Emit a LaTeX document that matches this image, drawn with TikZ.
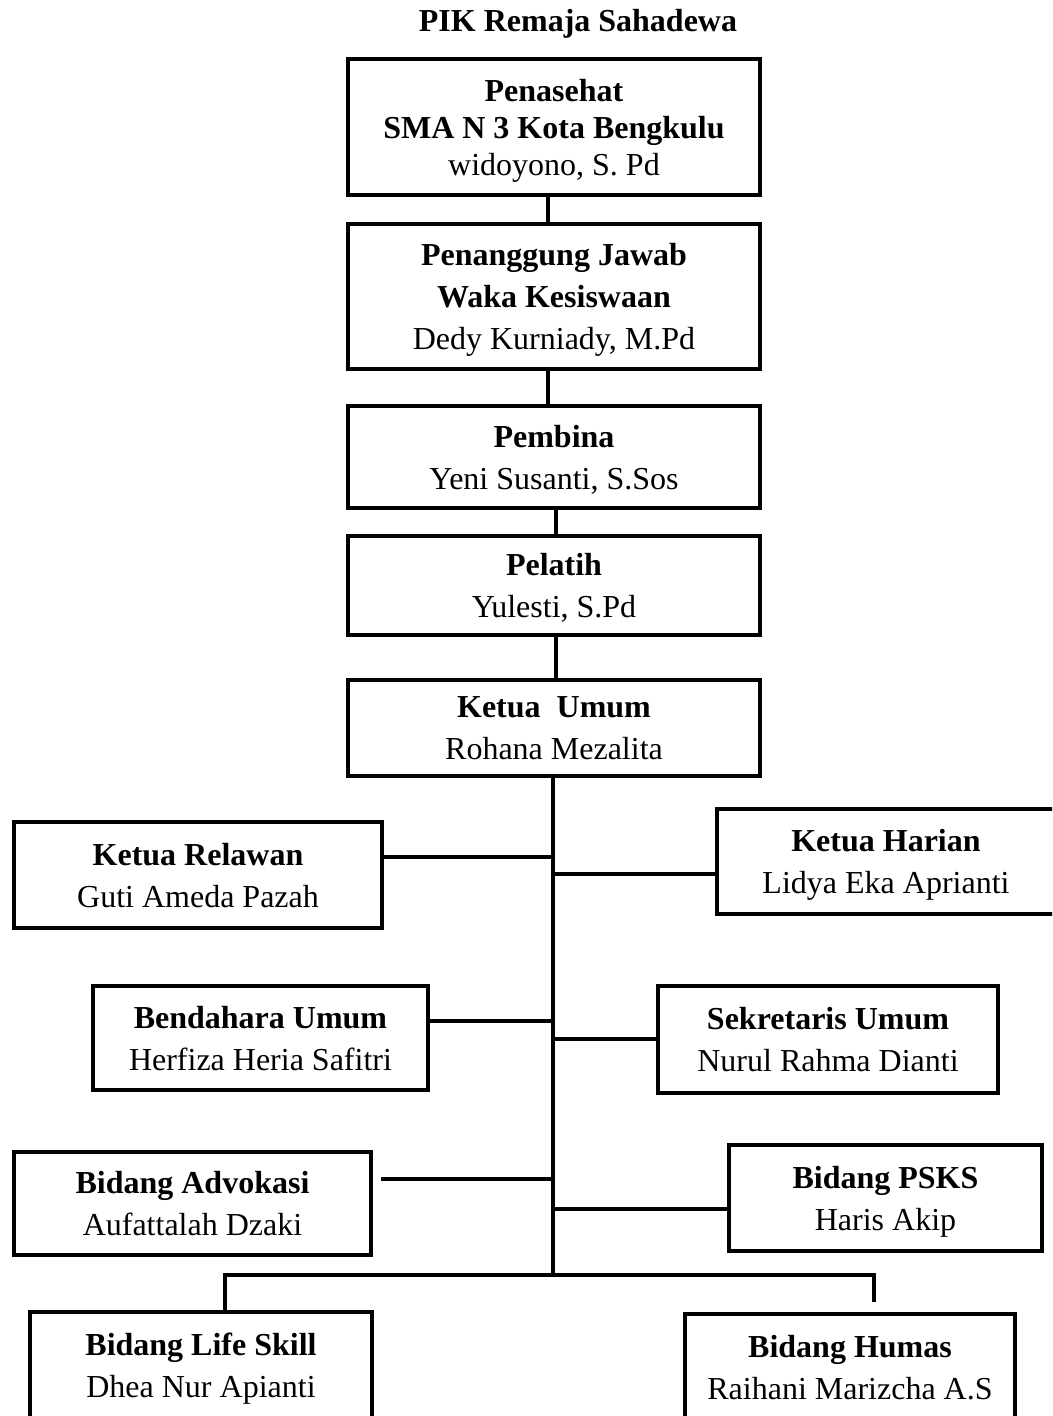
\documentclass[tikz,border=0pt]{standalone}
\usepackage{fontspec}
\setmainfont{Liberation Serif}
\begin{document}
\begin{tikzpicture}[x=1pt,y=-1pt,
  box/.style={draw=black, line width=4pt, inner sep=0pt, align=center, text depth=0pt,
    font=\fontsize{32}{42}\selectfont},
  conn/.style={line width=4pt, line cap=butt}]
\useasboundingbox (0,0) rectangle (1052,1416);
\clip (0,0) rectangle (1052,1416);
\node[font=\bfseries\fontsize{32}{38}\selectfont] (title) at (578,24) {PIK Remaja Sahadewa};
\node[box, minimum width=412pt, minimum height=136pt, font=\fontsize{32}{37}\selectfont] (b1) at (554,127)
  {\textbf{Penasehat}\\ \textbf{SMA N 3 Kota Bengkulu}\\ widoyono, S. Pd};
\node[box, minimum width=412pt, minimum height=145pt] (b2) at (554,296.5)
  {\textbf{Penanggung Jawab}\\ \textbf{Waka Kesiswaan}\\ Dedy Kurniady, M.Pd};
\node[box, minimum width=412pt, minimum height=102pt] (b3) at (554,457)
  {\textbf{Pembina}\\ Yeni Susanti, S.Sos};
\node[box, minimum width=412pt, minimum height=99pt] (b4) at (554,585.5)
  {\textbf{Pelatih}\\ Yulesti, S.Pd};
\node[box, minimum width=412pt, minimum height=96pt] (b5) at (554,728)
  {\textbf{Ketua\ \ Umum}\\ Rohana Mezalita};
\node[box, minimum width=368pt, minimum height=106pt] (rel) at (198,875)
  {\textbf{Ketua Relawan}\\ Guti Ameda Pazah};
\node[box, minimum width=338pt, minimum height=105pt] (har) at (886,861.5)
  {\textbf{Ketua Harian}\\ Lidya Eka Aprianti};
\node[box, minimum width=335pt, minimum height=104pt] (ben) at (260.5,1038)
  {\textbf{Bendahara Umum}\\ Herfiza Heria Safitri};
\node[box, minimum width=340pt, minimum height=107pt] (sek) at (828,1039.5)
  {\textbf{Sekretaris Umum}\\ Nurul Rahma Dianti};
\node[box, minimum width=357pt, minimum height=103pt] (adv) at (192.5,1203.5)
  {\textbf{Bidang Advokasi}\\ Aufattalah Dzaki};
\node[box, minimum width=313pt, minimum height=106pt] (psks) at (885.5,1198)
  {\textbf{Bidang PSKS}\\ Haris Akip};
\node[box, minimum width=342pt, minimum height=106pt] (ls) at (201,1365)
  {\textbf{Bidang Life Skill}\\ Dhea Nur Apianti};
\node[box, minimum width=330pt, minimum height=106pt] (hum) at (850,1367)
  {\textbf{Bidang Humas}\\ Raihani Marizcha A.S};
% vertical chain
\coordinate (c1) at (548,0);
\coordinate (c2) at (556,0);
\coordinate (c3) at (553,0);
\draw[conn] (b1.south -| c1) -- (b2.north -| c1);
\draw[conn] (b2.south -| c1) -- (b3.north -| c1);
\draw[conn] (b3.south -| c2) -- (b4.north -| c2);
\draw[conn] (b4.south -| c2) -- (b5.north -| c2);
\coordinate (j) at (553,1275);
\draw[conn] (b5.south -| c3) -- (j);
% side branches
\coordinate (t1) at (553,857);
\coordinate (t2) at (553,874);
\coordinate (t3) at (553,1021);
\coordinate (t4) at (553,1039);
\coordinate (t5) at (553,1179);
\coordinate (t6) at (553,1209);
\draw[conn] (rel.east |- t1) -- (t1);
\draw[conn] (t2) -- (har.west |- t2);
\draw[conn] (ben.east |- t3) -- (t3);
\draw[conn] (t4) -- (sek.west |- t4);
\draw[conn] ([xshift=8pt]adv.east |- t5) -- (t5);
\draw[conn] (t6) -- (psks.west |- t6);
% bottom bar
\coordinate (bl) at (225,1275);
\coordinate (br) at (874,1275);
\draw[conn, line join=miter] (bl |- ls.north) -- (bl) -- (br) -- ([yshift=10pt]br |- hum.north);
\end{tikzpicture}
\end{document}
